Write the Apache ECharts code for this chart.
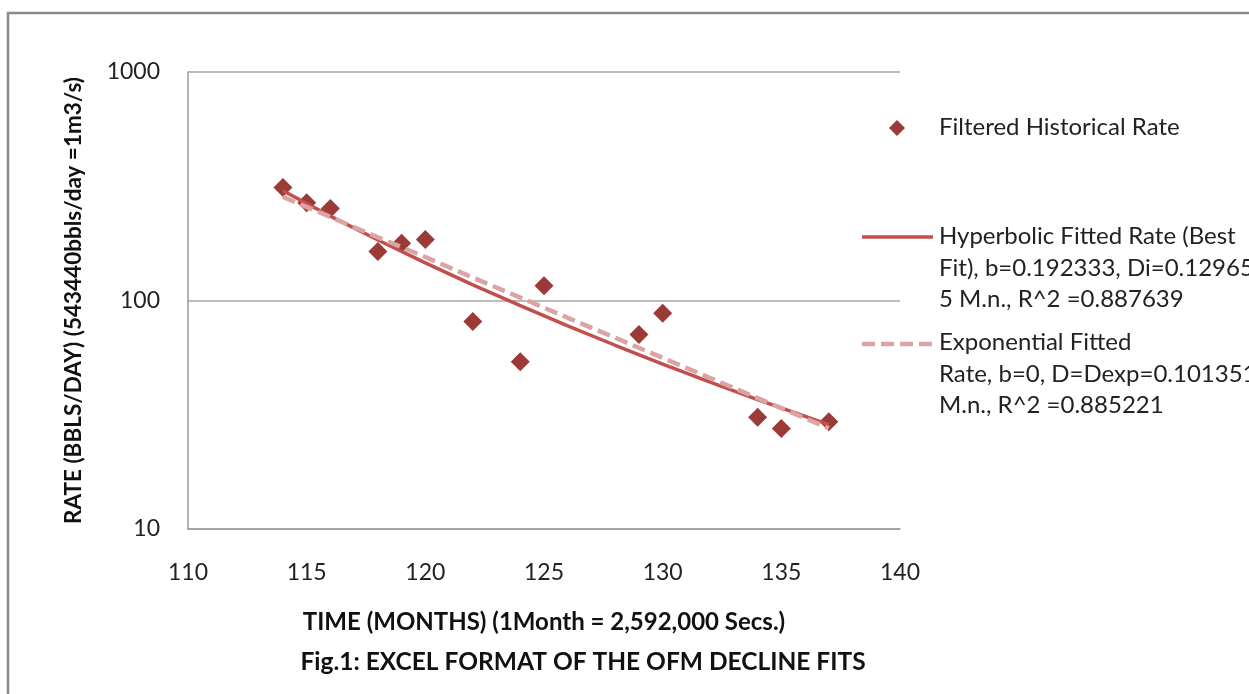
<!DOCTYPE html>
<html>
<head>
<meta charset="utf-8">
<script src="https://cdn.jsdelivr.net/npm/echarts@6/dist/echarts.min.js"></script>
<style>
  html, body { margin: 0; padding: 0; background: #fff; }
  #chart { width: 1249px; height: 694px; }
</style>
</head>
<body>
<div id="chart"></div>
<script>
// Measured production rate (bbl/day) by month
const histMonths = [114, 115, 116, 118, 119, 120, 122, 124, 125, 129, 130, 134, 135, 137];
const histRates  = [312, 268, 253, 164, 178, 185, 81, 54, 116, 71, 88, 30.8, 27.5, 29.5];

// Fitted decline curves sampled along the fit interval
const fitMonths   = [114, 116, 118, 120, 122, 124, 126, 128, 130, 132, 134, 137];
const hyperRates  = [302, 234, 184, 146, 117, 95, 77.4, 63.7, 52.7, 43.9, 36.8, 28.6];
const expoRates   = [284, 232, 189, 155, 126, 103, 84, 68.7, 56.1, 45.8, 37.4, 27.6];

// Axis ranges / ticks
const xTicks = [110, 115, 120, 125, 130, 135, 140];
const yTicks = [10, 100, 1000];

// Series names (legend text)
const seriesNames = [
  'Filtered Historical Rate',
  'Hyperbolic Fitted Rate (Best\nFit), b=0.192333, Di=0.12965\n5 M.n., R^2 =0.887639',
  'Exponential Fitted\nRate, b=0, D=Dexp=0.101351\nM.n., R^2 =0.885221'
];

const xTitle = 'TIME (MONTHS) (1Month = 2,592,000 Secs.)';
const yTitle = 'RATE (BBLS/DAY) (543440bbls/day =1m3/s)';
const figTitle = 'Fig.1: EXCEL FORMAT OF THE OFM DECLINE FITS';

const FONT = 'Lato, "Open Sans", sans-serif';
const C_POINT = '#9B3A37';
const C_HYPER = '#C0504D';
const C_EXPO = '#DBA3A1';

const zip = (xs, ys) => xs.map((x, i) => [x, ys[i]]);

const chart = echarts.init(document.getElementById('chart'), null, { renderer: 'canvas' });

const legendText = { fontFamily: FONT, fontSize: 24, fill: '#222', lineHeight: 31.5 };

chart.setOption({
  animation: false,
  backgroundColor: '#fff',
  textStyle: { fontFamily: FONT },
  grid: { left: 188, top: 72, width: 712, height: 457, containLabel: false },
  xAxis: {
    type: 'value',
    min: xTicks[0],
    max: xTicks[xTicks.length - 1],
    interval: 5,
    axisLine: { show: true, lineStyle: { color: '#9a9a9a', width: 1.5 } },
    axisTick: { show: false },
    axisLabel: { fontFamily: FONT, fontSize: 23, color: '#222', margin: 32 },
    splitLine: { show: false },
    name: xTitle,
    nameLocation: 'middle',
    nameGap: 81,
    nameTextStyle: { fontFamily: FONT, fontSize: 24, fontWeight: 'bold', color: '#111' }
  },
  yAxis: {
    type: 'log',
    logBase: 10,
    min: yTicks[0],
    max: yTicks[yTicks.length - 1],
    axisLine: { show: true, lineStyle: { color: '#9a9a9a', width: 1.5 } },
    axisTick: { show: false },
    axisLabel: { fontFamily: FONT, fontSize: 23, color: '#222', margin: 28,
                 formatter: v => String(Math.round(v)) },
    splitLine: { show: true, lineStyle: { color: '#a6a6a6', width: 1.5 } },
    minorSplitLine: { show: false },
    name: yTitle,
    nameLocation: 'middle',
    nameGap: 103,
    nameRotate: 90,
    nameTextStyle: { fontFamily: FONT, fontSize: 22.5, fontWeight: 'bold', color: '#111' }
  },
  series: [
    {
      name: seriesNames[0],
      type: 'scatter',
      data: zip(histMonths, histRates),
      symbol: 'diamond',
      symbolSize: 19,
      itemStyle: { color: C_POINT, opacity: 1 },
      z: 2
    },
    {
      name: seriesNames[1],
      type: 'line',
      data: zip(fitMonths, hyperRates),
      showSymbol: false,
      symbol: 'none',
      lineStyle: { color: C_HYPER, width: 3.5 },
      z: 3
    },
    {
      name: seriesNames[2],
      type: 'line',
      data: zip(fitMonths, expoRates),
      showSymbol: false,
      symbol: 'none',
      lineStyle: { color: C_EXPO, width: 4.5, type: [13, 6] },
      z: 4
    }
  ],
  graphic: [
    // outer frame
    { type: 'rect', shape: { x: 8, y: 13, width: 1400, height: 900 },
      style: { fill: 'none', stroke: '#8a8a8a', lineWidth: 2.5 }, silent: true },
    // legend: scatter
    { type: 'polygon', shape: { points: [[897, 120], [905, 128], [897, 136], [889, 128]] },
      style: { fill: C_POINT } },
    { type: 'text', x: 939, y: 112, style: Object.assign({ text: seriesNames[0] }, legendText) },
    // legend: hyperbolic
    { type: 'line', shape: { x1: 862, y1: 237, x2: 933, y2: 237 },
      style: { stroke: C_HYPER, lineWidth: 3.5 } },
    { type: 'text', x: 939, y: 221, style: Object.assign({ text: seriesNames[1] }, legendText) },
    // legend: exponential
    { type: 'line', shape: { x1: 862, y1: 344, x2: 933, y2: 344 },
      style: { stroke: C_EXPO, lineWidth: 4.5, lineDash: [13, 6] } },
    { type: 'text', x: 939, y: 327, style: Object.assign({ text: seriesNames[2] }, legendText) },
    // figure caption
    { type: 'text', x: 583, y: 662,
      style: { text: figTitle, fontFamily: FONT, fontSize: 24.5, fontWeight: 'bold', fill: '#111',
               align: 'center', verticalAlign: 'middle' } }
  ]
});
</script>
</body>
</html>
